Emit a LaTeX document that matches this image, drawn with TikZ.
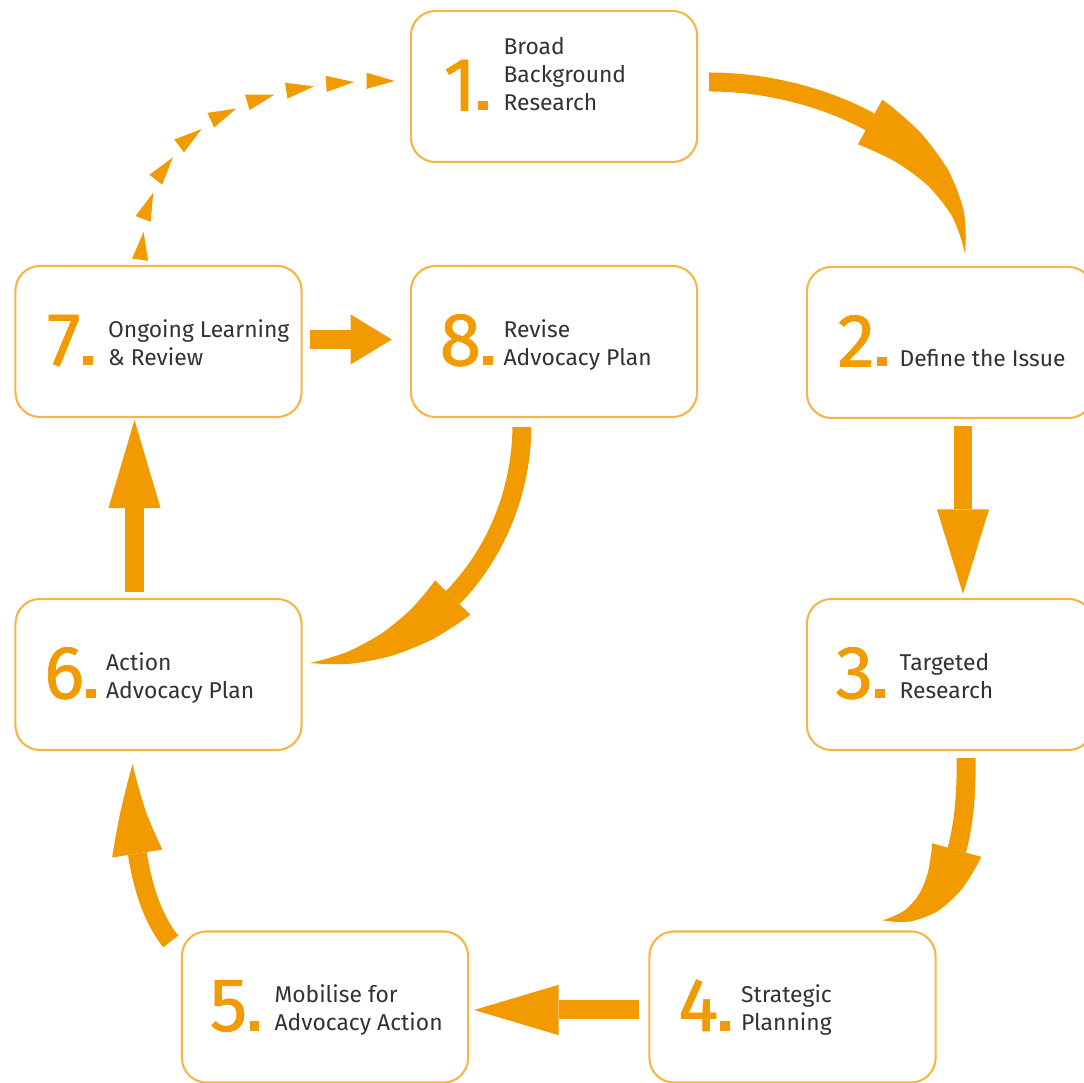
\documentclass[tikz,border=0pt]{standalone}
\usepackage{fontspec}
\setmainfont{Fira Sans}
\newfontfamily\numfont{Fira Sans}[FakeBold=0.9]
\usetikzlibrary{arrows.meta,bending,decorations.markings}
\definecolor{advorange}{RGB}{242,155,0}
\definecolor{boxorange}{RGB}{247,181,72}
\definecolor{txtgray}{RGB}{50,50,50}
\newcommand{\stepnum}[1]{#1\kern0.6pt\rule{2.8pt}{2.8pt}}
\newcommand{\lines}[1]{\begin{tabular}[b]{@{}l@{}}#1\end{tabular}}

\begin{document}
\begin{tikzpicture}[x=0.01cm,y=-0.01cm,
    stage/.style={draw=boxorange, line width=0.6pt, rounded corners=7pt,
      minimum width=2.86cm, minimum height=1.51cm, inner sep=0pt},
    num/.style={anchor=base west, inner sep=0pt, text=advorange,
      font=\numfont\fontsize{21.5}{22}\selectfont},
    lbl/.style={anchor=base west, inner sep=0pt, text=txtgray,
      font=\fontsize{6.5}{8}\selectfont},
    flow/.style={draw=advorange, line width=5.4pt},
    dashflow/.style={decorate, decoration={markings,
      mark=between positions 0.085 and 1 step 0.1143 with
      {\arrow[color=advorange]{Triangle[width=4.6pt,length=8pt,line width=0pt]}}}}
  ]
  \useasboundingbox (0,0) rectangle (1084,1083);

  % boxes
  \node[stage] (b1) at (554,86.5) {};
  \node[stage] (b2) at (950,342.5) {};
  \node[stage] (b3) at (950,674.5) {};
  \node[stage] (b4) at (792.5,1007) {};
  \node[stage] (b5) at (325,1007) {};
  \node[stage] (b6) at (158.5,674.5) {};
  \node[stage] (b7) at (158.5,341.5) {};
  \node[stage] (b8) at (554,341.5) {};

  % numbers and text
  \node[num] (n1) at ([shift={(33,24)}]b1.west) {\stepnum{1}};
  \node[lbl] (t1) at ([shift={(93,24)}]b1.west) {\lines{Broad\\Background\\Research}};
  \node[num] (n2) at ([shift={(31,24)}]b2.west) {\stepnum{2}};
  \node[lbl] (t2) at ([shift={(93,24)}]b2.west) {\lines{Define the Issue}};
  \node[num] (n3) at ([shift={(29,24)}]b3.west) {\stepnum{3}};
  \node[lbl] (t3) at ([shift={(93,24)}]b3.west) {\lines{Targeted\\Research}};
  \node[num] (n4) at ([shift={(29,24)}]b4.west) {\stepnum{4}};
  \node[lbl] (t4) at ([shift={(92,24)}]b4.west) {\lines{Strategic\\Planning}};
  \node[num] (n5) at ([shift={(28,24)}]b5.west) {\stepnum{5}};
  \node[lbl] (t5) at ([shift={(93,24)}]b5.west) {\lines{Mobilise for\\Advocacy Action}};
  \node[num] (n6) at ([shift={(29,24)}]b6.west) {\stepnum{6}};
  \node[lbl] (t6) at ([shift={(91,24)}]b6.west) {\lines{Action\\Advocacy Plan}};
  \node[num] (n7) at ([shift={(32,24)}]b7.west) {\stepnum{7}};
  \node[lbl] (t7) at ([shift={(93,24)}]b7.west) {\lines{Ongoing Learning\\\& Review}};
  \node[num] (n8) at ([shift={(29,24)}]b8.west) {\stepnum{8}};
  \node[lbl] (t8) at ([shift={(93,24)}]b8.west) {\lines{Revise\\Advocacy Plan}};

  % arrows
  \draw[flow, -{Triangle[width=14.5pt,length=47pt,bend,line width=0pt]}] ([shift={(11,-4.5)}]b1.east)
    .. controls (830,82) and (965,150) .. ([shift={(15,-12)}]b2.north);
  \draw[flow, -{Triangle[width=14.8pt,length=24pt,line width=0pt]}] ([shift={(13,7)}]b2.south) -- ([shift={(13,-4)}]b3.north);
  \draw[flow, -{Triangle[width=14.5pt,length=30pt,bend,line width=0pt]}] ([shift={(16,7)}]b3.south)
    .. controls (968,860) and (940,920) .. ([shift={(90,-10)}]b4.north);
  \draw[flow, -{Triangle[width=14.3pt,length=24pt,line width=0pt]}] ([shift={(-9,3)}]b4.west) -- ([shift={(5,3)}]b5.east);
  \draw[flow, -{Triangle[width=14.5pt,length=27.6pt,bend,line width=0pt]}] ([shift={(-10,11)}]b5.north west)
    .. controls (145,910) and (130,850) .. ([shift={(-26,13)}]b6.south);
  \draw[flow, -{Triangle[width=14.8pt,length=25pt,line width=0pt]}] ([shift={(-24,-6)}]b6.north) -- ([shift={(-24,2)}]b7.south);
  \draw[flow, -{Triangle[width=14.2pt,length=11.7pt,line width=0pt]}] ([shift={(7,-2)}]b7.east) -- ([shift={(-18,-2)}]b8.west);
  \draw[flow, -{Triangle[width=14pt,length=45.5pt,bend,line width=0pt]}] ([shift={(-32,9)}]b8.south)
    .. controls (520,560) and (420,660) .. ([shift={(7,-11.5)}]b6.east);
  \path[dashflow] ([shift={(-16.5,-3)}]b7.north) .. controls (140,125) and (255,80) .. ([shift={(-15,-5.5)}]b1.west);
\end{tikzpicture}
\end{document}
